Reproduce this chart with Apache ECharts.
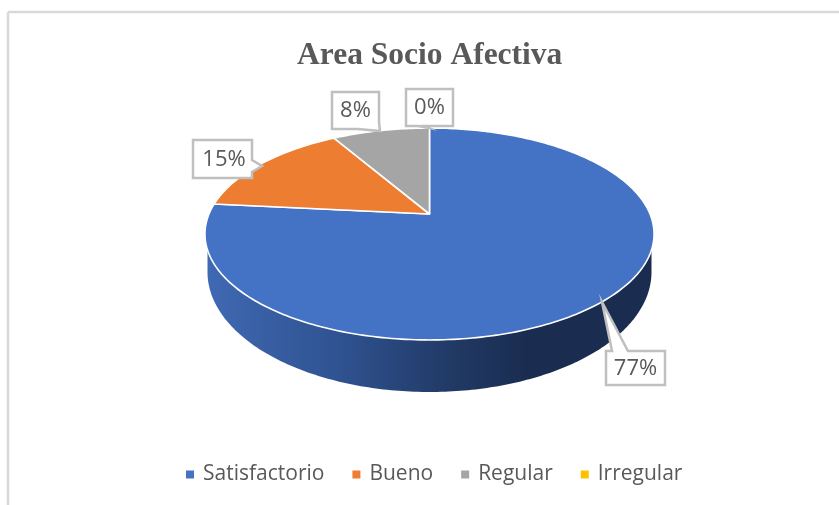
<!DOCTYPE html>
<html>
<head>
<meta charset="utf-8">
<style>html,body{margin:0;padding:0;background:#fff}#c{width:839px;height:505px}</style>
<script src="https://cdn.jsdelivr.net/npm/echarts@6/dist/echarts.min.js"></script>
</head>
<body>
<div id="c"></div>
<script>
const categories = ['Satisfactorio', 'Bueno', 'Regular', 'Irregular'];
const values = [76.6, 15, 8.4, 0];
const colors = ['#4472c4', '#ed7d31', '#a5a5a5', '#ffc000'];
const titleText = 'Area Socio Afectiva';

// label callouts: outline of box + pointer, and the centre of the text
const callouts = [
  { outline: [[606, 351], [612, 351], [602, 302], [628, 351], [665, 351], [665, 385], [606, 385]], at: [635.5, 369] },
  { outline: [[193, 140], [252, 140], [252, 160], [262, 166], [252, 172], [252, 178], [193, 178]], at: [224, 160] },
  { outline: [[332, 92], [379, 92], [379, 122], [380, 131], [358, 129], [332, 129]], at: [355.5, 111] },
  { outline: [[406, 89], [453, 89], [453, 126], [425, 126], [429, 128], [418, 126], [406, 126]], at: [429.5, 108] }
];

// perspective of the pie's top face: a homography of the unit circle
const P = { cx: 429.5, a: -61.8, b: 214, c: 0.1887, d: 220.5 };
function rim(deg) {
  const t = deg * Math.PI / 180, u = Math.sin(t), v = Math.cos(t), w = 1 + P.c * v;
  return [P.cx + P.d * u / w, (P.a * v + P.b) / w];
}
const total = values.reduce((s, v) => s + v, 0);
const rotation = []; // start angle of every slice
values.reduce((s, v, i) => { rotation[i] = s; return s + v / total * 360; }, 0);

const wallFill = new echarts.graphic.LinearGradient(0, 0, 1, 0, [
  { offset: 0, color: '#3f69b3' },
  { offset: 0.3, color: '#2f5290' },
  { offset: 0.55, color: '#213965' },
  { offset: 0.72, color: '#1a2d50' },
  { offset: 1, color: '#1a2d50' }
]);

function wall(i) {
  const from = rotation[i], to = from + values[i] / total * 360;
  const a0 = Math.max(from, 90), a1 = Math.min(to, 270);
  if (a1 <= a0) return null;
  const pts = [];
  for (let a = a0; a <= a1; a += 1) {
    const t = a * Math.PI / 180;
    pts.push([P.cx + 222 * Math.sin(t), 272 - 120 * Math.cos(t)]);
  }
  pts.push([P.cx - 222, 234], [P.cx + 222, 234]);
  return { type: 'polygon', shape: { points: pts }, style: { fill: wallFill } };
}

function renderSlice(i) {
  return function (params, api) {
    const v = api.value(0), from = rotation[i], to = from + v / total * 360;
    const kids = [];
    const w = wall(i);
    if (w) kids.push(w);
    if (v > 0) {
      const pts = [[P.cx, P.b]];
      for (let a = from; a < to; a += 1) pts.push(rim(a));
      pts.push(rim(to));
      kids.push({
        type: 'polygon', shape: { points: pts },
        style: { fill: colors[i], stroke: '#fff', lineWidth: 1.6, lineJoin: 'round' }
      });
    }
    const c = callouts[i];
    kids.push({
      type: 'polygon', z2: 5, shape: { points: c.outline },
      style: { fill: '#fff', stroke: '#bfbfbf', lineWidth: 2.5, lineJoin: 'miter' }
    });
    kids.push({
      type: 'text', z2: 7,
      style: {
        x: c.at[0], y: c.at[1],
        text: Math.round(v / total * 100) + '%', align: 'center', verticalAlign: 'middle',
        fill: '#595959', font: '22px "Open Sans"'
      }
    });
    return { type: 'group', children: kids };
  };
}

const chart = echarts.init(document.getElementById('c'), null, { renderer: 'canvas' });
chart.setOption({
  animation: false,
  backgroundColor: '#fff',
  title: {
    text: titleText, left: 292, top: 35,
    textStyle: { fontFamily: '"Liberation Serif"', fontWeight: 'bold', fontSize: 31.5, color: '#595959' }
  },
  legend: {
    data: categories, left: 181, top: 459, icon: 'rect', itemWidth: 8, itemHeight: 8, itemGap: 28,
    selectedMode: false,
    textStyle: { fontFamily: '"Open Sans"', fontSize: 21, color: '#595959', padding: [0, 0, 0, 4] }
  },
  graphic: [
    { type: 'line', shape: { x1: 8, y1: 12, x2: 839, y2: 12 }, style: { stroke: '#d9d9d9', lineWidth: 2.5 } },
    { type: 'line', shape: { x1: 8, y1: 12, x2: 8, y2: 505 }, style: { stroke: '#d9d9d9', lineWidth: 2.5 } }
  ],
  series: categories.map((name, i) => ({
    type: 'custom', name, coordinateSystem: 'none', z: 2 + i,
    itemStyle: { color: colors[i] },
    renderItem: renderSlice(i),
    data: [{ name, value: [values[i]] }]
  }))
});
</script>
</body>
</html>
